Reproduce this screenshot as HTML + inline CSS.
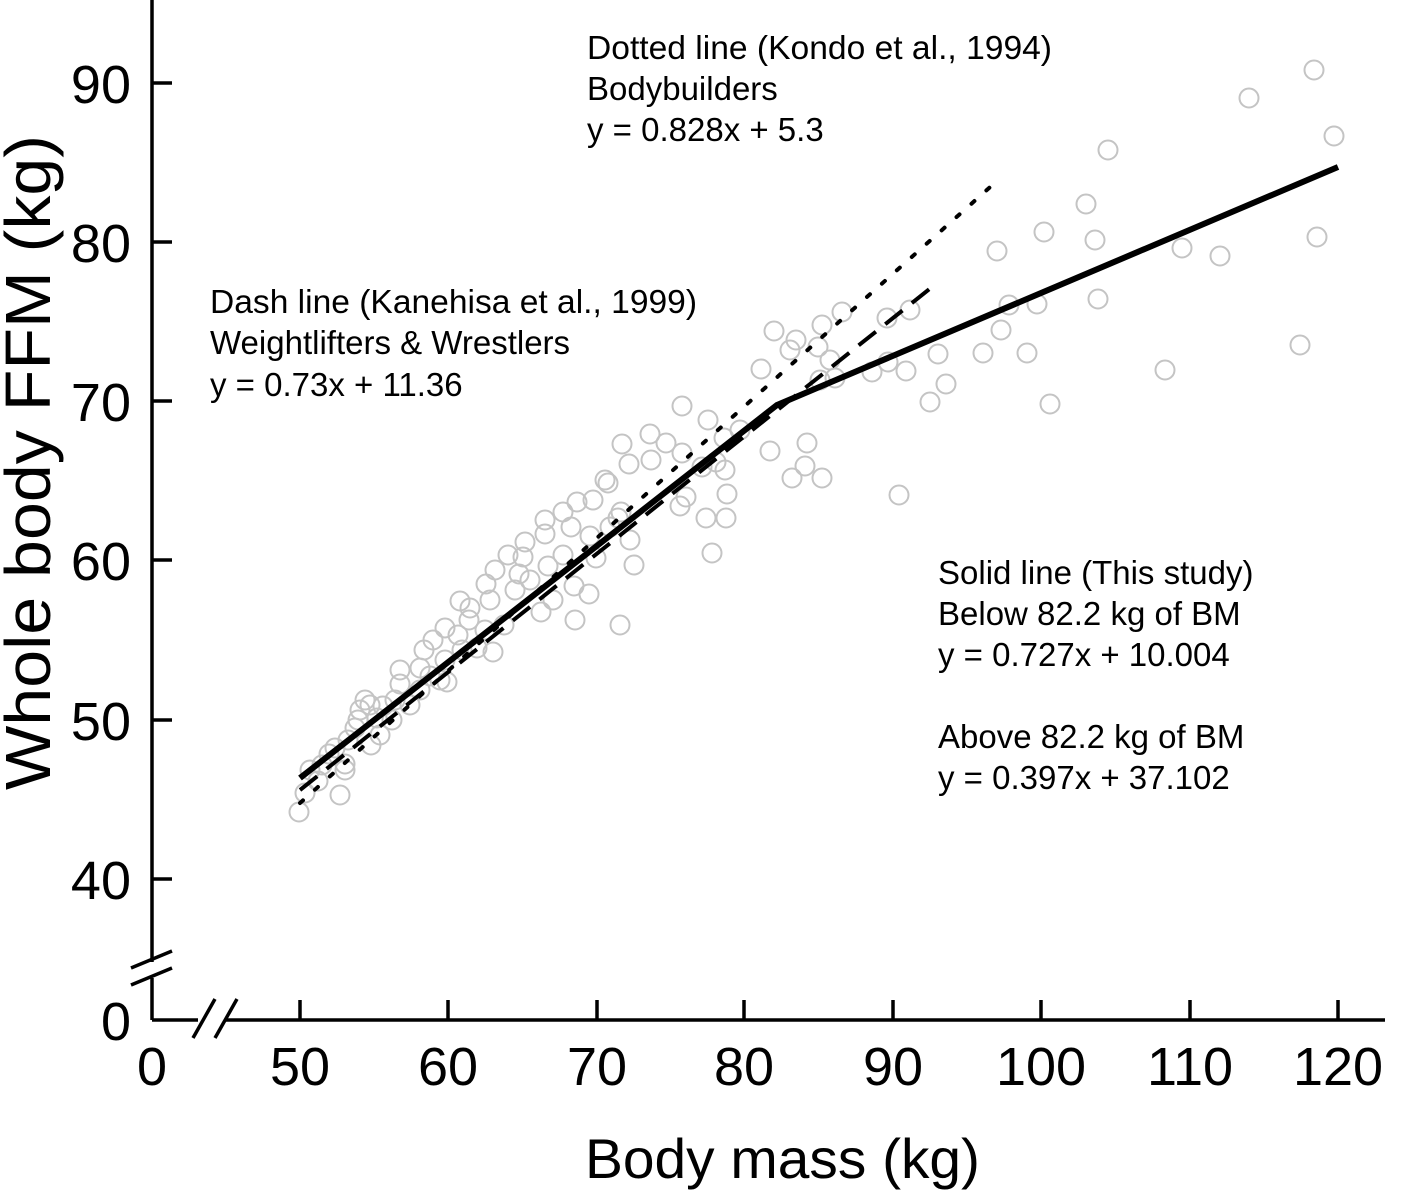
<!DOCTYPE html>
<html><head><meta charset="utf-8"><style>body{margin:0;background:#fff}svg{display:block}text{font-family:"Liberation Sans",Arial,sans-serif;fill:#000}</style></head><body>
<svg width="1418" height="1193" viewBox="0 0 1418 1193">
<g stroke="#000" stroke-width="3.5" fill="none">
<line x1="152" y1="0" x2="152" y2="962"/>
<line x1="152" y1="978" x2="152" y2="1020"/>
<line x1="152" y1="1020" x2="198" y2="1020"/>
<line x1="225" y1="1020" x2="1385" y2="1020"/>
<line x1="131" y1="968" x2="172" y2="951"/>
<line x1="131" y1="985" x2="172" y2="968"/>
<line x1="193" y1="1038" x2="215" y2="999"/>
<line x1="215" y1="1038" x2="237" y2="999"/>
<line x1="152" y1="83" x2="172" y2="83"/><line x1="152" y1="242" x2="172" y2="242"/><line x1="152" y1="401" x2="172" y2="401"/><line x1="152" y1="560" x2="172" y2="560"/><line x1="152" y1="720" x2="172" y2="720"/><line x1="152" y1="879" x2="172" y2="879"/>
<line x1="300" y1="1020" x2="300" y2="1000"/><line x1="448" y1="1020" x2="448" y2="1000"/><line x1="597" y1="1020" x2="597" y2="1000"/><line x1="744" y1="1020" x2="744" y2="1000"/><line x1="893" y1="1020" x2="893" y2="1000"/><line x1="1041" y1="1020" x2="1041" y2="1000"/><line x1="1190" y1="1020" x2="1190" y2="1000"/><line x1="1338" y1="1020" x2="1338" y2="1000"/>
</g>
<g fill="none" stroke="#c4c4c4" stroke-width="2">
<circle cx="1314" cy="70" r="9.5"/><circle cx="1249" cy="98" r="9.5"/><circle cx="1334" cy="136" r="9.5"/><circle cx="1108" cy="150" r="9.5"/><circle cx="1086" cy="204" r="9.5"/><circle cx="1095" cy="240" r="9.5"/><circle cx="1044" cy="232" r="9.5"/><circle cx="1317" cy="237" r="9.5"/><circle cx="997" cy="251" r="9.5"/><circle cx="1182" cy="248" r="9.5"/><circle cx="1220" cy="256" r="9.5"/><circle cx="1098" cy="299" r="9.5"/><circle cx="1009" cy="305" r="9.5"/><circle cx="1037" cy="304" r="9.5"/><circle cx="910" cy="310" r="9.5"/><circle cx="887" cy="318" r="9.5"/><circle cx="842" cy="312" r="9.5"/><circle cx="774" cy="331" r="9.5"/><circle cx="822" cy="325" r="9.5"/><circle cx="796" cy="340" r="9.5"/><circle cx="790" cy="350" r="9.5"/><circle cx="818" cy="347" r="9.5"/><circle cx="830" cy="360" r="9.5"/><circle cx="1300" cy="345" r="9.5"/><circle cx="983" cy="353" r="9.5"/><circle cx="1027" cy="353" r="9.5"/><circle cx="938" cy="354" r="9.5"/><circle cx="1001" cy="330" r="9.5"/><circle cx="888" cy="362" r="9.5"/><circle cx="872" cy="372" r="9.5"/><circle cx="906" cy="371" r="9.5"/><circle cx="946" cy="384" r="9.5"/><circle cx="1165" cy="370" r="9.5"/><circle cx="930" cy="402" r="9.5"/><circle cx="1050" cy="404" r="9.5"/><circle cx="835" cy="378" r="9.5"/><circle cx="761" cy="369" r="9.5"/><circle cx="820" cy="380" r="9.5"/><circle cx="807" cy="443" r="9.5"/><circle cx="805" cy="466" r="9.5"/><circle cx="792" cy="478" r="9.5"/><circle cx="822" cy="478" r="9.5"/><circle cx="899" cy="495" r="9.5"/><circle cx="770" cy="451" r="9.5"/><circle cx="740" cy="430" r="9.5"/><circle cx="724" cy="438" r="9.5"/><circle cx="708" cy="420" r="9.5"/><circle cx="682" cy="406" r="9.5"/><circle cx="716" cy="462" r="9.5"/><circle cx="702" cy="467" r="9.5"/><circle cx="725" cy="470" r="9.5"/><circle cx="727" cy="494" r="9.5"/><circle cx="726" cy="518" r="9.5"/><circle cx="706" cy="518" r="9.5"/><circle cx="712" cy="553" r="9.5"/><circle cx="680" cy="506" r="9.5"/><circle cx="650" cy="434" r="9.5"/><circle cx="629" cy="464" r="9.5"/><circle cx="651" cy="460" r="9.5"/><circle cx="666" cy="443" r="9.5"/><circle cx="682" cy="453" r="9.5"/><circle cx="686" cy="497" r="9.5"/><circle cx="622" cy="444" r="9.5"/><circle cx="608" cy="483" r="9.5"/><circle cx="621" cy="512" r="9.5"/><circle cx="634" cy="565" r="9.5"/><circle cx="618" cy="518" r="9.5"/><circle cx="610" cy="527" r="9.5"/><circle cx="630" cy="540" r="9.5"/><circle cx="590" cy="536" r="9.5"/><circle cx="605" cy="480" r="9.5"/><circle cx="593" cy="500" r="9.5"/><circle cx="577" cy="502" r="9.5"/><circle cx="563" cy="512" r="9.5"/><circle cx="571" cy="527" r="9.5"/><circle cx="545" cy="520" r="9.5"/><circle cx="545" cy="534" r="9.5"/><circle cx="563" cy="555" r="9.5"/><circle cx="548" cy="566" r="9.5"/><circle cx="596" cy="558" r="9.5"/><circle cx="589" cy="594" r="9.5"/><circle cx="553" cy="600" r="9.5"/><circle cx="525" cy="542" r="9.5"/><circle cx="523" cy="557" r="9.5"/><circle cx="519" cy="574" r="9.5"/><circle cx="515" cy="590" r="9.5"/><circle cx="490" cy="600" r="9.5"/><circle cx="504" cy="625" r="9.5"/><circle cx="508" cy="555" r="9.5"/><circle cx="495" cy="570" r="9.5"/><circle cx="486" cy="584" r="9.5"/><circle cx="470" cy="608" r="9.5"/><circle cx="469" cy="620" r="9.5"/><circle cx="445" cy="628" r="9.5"/><circle cx="458" cy="635" r="9.5"/><circle cx="462" cy="650" r="9.5"/><circle cx="445" cy="660" r="9.5"/><circle cx="477" cy="648" r="9.5"/><circle cx="493" cy="652" r="9.5"/><circle cx="485" cy="630" r="9.5"/><circle cx="433" cy="640" r="9.5"/><circle cx="440" cy="680" r="9.5"/><circle cx="447" cy="682" r="9.5"/><circle cx="430" cy="676" r="9.5"/><circle cx="424" cy="650" r="9.5"/><circle cx="420" cy="690" r="9.5"/><circle cx="400" cy="684" r="9.5"/><circle cx="410" cy="705" r="9.5"/><circle cx="395" cy="700" r="9.5"/><circle cx="392" cy="720" r="9.5"/><circle cx="383" cy="706" r="9.5"/><circle cx="377" cy="718" r="9.5"/><circle cx="380" cy="735" r="9.5"/><circle cx="370" cy="705" r="9.5"/><circle cx="365" cy="700" r="9.5"/><circle cx="360" cy="710" r="9.5"/><circle cx="358" cy="720" r="9.5"/><circle cx="355" cy="728" r="9.5"/><circle cx="371" cy="745" r="9.5"/><circle cx="348" cy="740" r="9.5"/><circle cx="345" cy="770" r="9.5"/><circle cx="335" cy="748" r="9.5"/><circle cx="329" cy="754" r="9.5"/><circle cx="305" cy="793" r="9.5"/><circle cx="299" cy="812" r="9.5"/><circle cx="340" cy="795" r="9.5"/><circle cx="345" cy="764" r="9.5"/><circle cx="318" cy="781" r="9.5"/><circle cx="322" cy="765" r="9.5"/><circle cx="310" cy="770" r="9.5"/><circle cx="620" cy="625" r="9.5"/><circle cx="400" cy="670" r="9.5"/><circle cx="420" cy="668" r="9.5"/><circle cx="460" cy="601" r="9.5"/><circle cx="530" cy="580" r="9.5"/><circle cx="541" cy="612" r="9.5"/><circle cx="575" cy="620" r="9.5"/><circle cx="574" cy="586" r="9.5"/>
</g>
<line x1="300" y1="803" x2="998" y2="180" stroke="#000" stroke-width="4" stroke-dasharray="4 16" stroke-linecap="round"/>
<line x1="300" y1="790" x2="932" y2="287" stroke="#000" stroke-width="4" stroke-dasharray="22 12"/>
<polyline points="300,778 777,405 1338,167" fill="none" stroke="#000" stroke-width="6" stroke-linejoin="round"/>
<g font-size="54" text-anchor="end">
<text x="131" y="103">90</text><text x="131" y="262">80</text><text x="131" y="421">70</text><text x="131" y="580">60</text><text x="131" y="740">50</text><text x="131" y="899">40</text><text x="131" y="1040">0</text>
</g>
<g font-size="54" text-anchor="middle">
<text x="152" y="1085">0</text><text x="300" y="1085">50</text><text x="448" y="1085">60</text><text x="597" y="1085">70</text><text x="744" y="1085">80</text><text x="893" y="1085">90</text><text x="1041" y="1085">100</text><text x="1190" y="1085">110</text><text x="1338" y="1085">120</text>
</g>
<text x="585" y="1178" font-size="56" textLength="395" lengthAdjust="spacingAndGlyphs">Body mass (kg)</text>
<text transform="translate(50,790) rotate(-90)" font-size="64" textLength="655" lengthAdjust="spacingAndGlyphs">Whole body FFM (kg)</text>
<g font-size="33">
<text x="587" y="59" textLength="465" lengthAdjust="spacingAndGlyphs">Dotted line (Kondo et al., 1994)</text><text x="587" y="100">Bodybuilders</text><text x="587" y="141">y = 0.828x + 5.3</text>
<text x="210" y="313" textLength="487" lengthAdjust="spacingAndGlyphs">Dash line (Kanehisa et al., 1999)</text><text x="210" y="354">Weightlifters &amp; Wrestlers</text><text x="210" y="396">y = 0.73x + 11.36</text>
<text x="938" y="584">Solid line (This study)</text><text x="938" y="625">Below 82.2 kg of BM</text><text x="938" y="666">y = 0.727x + 10.004</text><text x="938" y="748">Above 82.2 kg of BM</text><text x="938" y="789">y = 0.397x + 37.102</text>
</g>
</svg>
</body></html>
